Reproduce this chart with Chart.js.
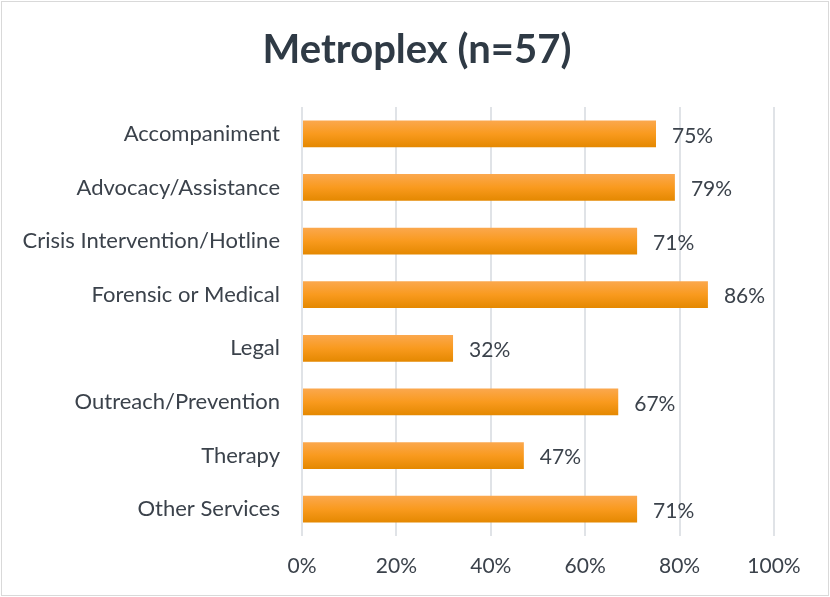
<!DOCTYPE html>
<html>
<head>
<meta charset="utf-8">
<script src="https://cdn.jsdelivr.net/npm/chart.js@4.4.1/dist/chart.umd.min.js"></script>
<style>
html,body{margin:0;padding:0;background:#fff;}
#wrap{width:830px;height:597px;position:relative;}
</style>
</head>
<body>
<div id="wrap"><canvas id="c" width="830" height="597"></canvas></div>
<script>
const categories = ["Accompaniment","Advocacy/Assistance","Crisis Intervention/Hotline","Forensic or Medical","Legal","Outreach/Prevention","Therapy","Other Services"];
const values = [75, 79, 71, 86, 32, 67, 47, 71];
const tickLabels = ["0%","20%","40%","60%","80%","100%"];
const chartTitle = "Metroplex (n=57)";

const FONT = "Lato, 'Open Sans', sans-serif";
const TEXT = "#3b424b";

function barGradient(c) {
  const chart = c.chart;
  const ys = chart.scales && chart.scales.y;
  if (!ys || !chart.chartArea) return '#f99a1e';
  const yc = ys.getPixelForValue(c.dataIndex);
  const h = (ys.height / categories.length) * 0.5;
  const g = chart.ctx.createLinearGradient(0, yc - h/2, 0, yc + h/2);
  g.addColorStop(0, '#fba84e');
  g.addColorStop(0.5, '#f99a1e');
  g.addColorStop(1, '#e48800');
  return g;
}

const labelPlugin = {
  id: 'valLabels',
  afterDatasetsDraw(chart) {
    const ctx = chart.ctx;
    const meta = chart.getDatasetMeta(0);
    ctx.save();
    ctx.font = "21px " + FONT;
    ctx.fillStyle = TEXT;
    ctx.textAlign = 'left';
    ctx.textBaseline = 'middle';
    meta.data.forEach((el, i) => {
      ctx.fillText(values[i] + '%', el.x + 16, el.y + 2);
    });
    ctx.restore();
  }
};

const titlePlugin = {
  id: 'centerTitle',
  afterDraw(chart) {
    const ctx = chart.ctx;
    ctx.save();
    ctx.font = "bold 40px " + FONT;
    ctx.fillStyle = '#2f3a45';
    ctx.textAlign = 'center';
    ctx.textBaseline = 'middle';
    ctx.fillText(chartTitle, chart.width / 2 + 2, 50);
    ctx.restore();
  }
};

const borderPlugin = {
  id: 'outerBorder',
  afterDraw(chart) {
    const ctx = chart.ctx;
    ctx.save();
    ctx.strokeStyle = '#d9d9d9';
    ctx.lineWidth = 1;
    ctx.strokeRect(1.5, 1.5, chart.width - 3, chart.height - 3);
    ctx.restore();
  }
};

new Chart(document.getElementById('c'), {
  type: 'bar',
  data: {
    labels: categories,
    datasets: [{
      data: values,
      backgroundColor: barGradient,
      borderWidth: 0,
      barPercentage: 1,
      categoryPercentage: 0.5
    }]
  },
  options: {
    indexAxis: 'y',
    responsive: false,
    animation: false,
    devicePixelRatio: 1,
    layout: { padding: { top: 107, right: 56, bottom: 0, left: 0 } },
    plugins: {
      legend: { display: false },
      tooltip: { enabled: false },
      title: { display: false }
    },
    scales: {
      x: {
        min: 0, max: 100,
        ticks: {
          stepSize: 20,
          padding: 18,
          color: TEXT,
          font: { family: FONT, size: 21 },
          callback: (v, i) => tickLabels[i]
        },
        grid: { color: '#e0e3e7', lineWidth: 2, drawTicks: false },
        border: { display: false },
        afterFit(scale) { scale.height = 61; }
      },
      y: {
        ticks: {
          padding: 14,
          color: TEXT,
          font: { family: FONT, size: 22 }
        },
        grid: { display: false },
        border: { display: false },
        afterFit(scale) { scale.width = 302; }
      }
    }
  },
  plugins: [labelPlugin, titlePlugin, borderPlugin]
});
</script>
</body>
</html>
